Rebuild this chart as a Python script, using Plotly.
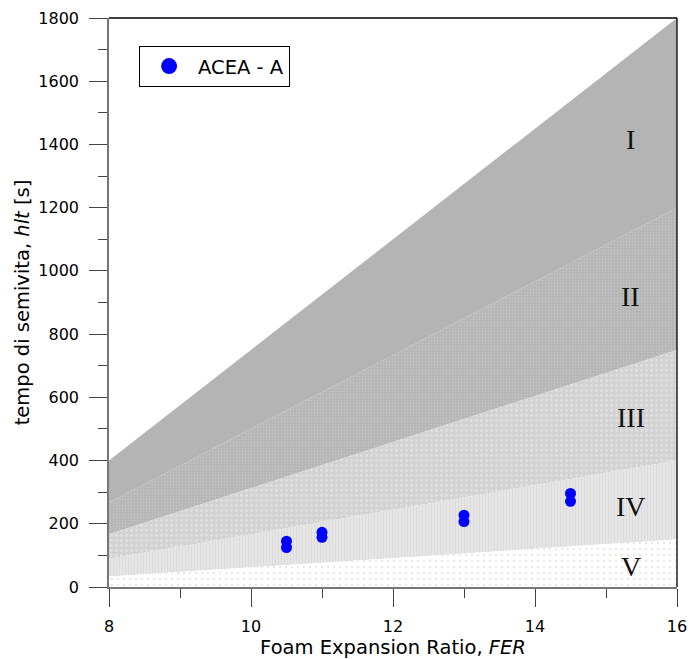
import plotly.graph_objects as go

# ---- data ----
fer_ends = [8, 16]
# upper boundary of each class at FER=8 and FER=16
class_names = ["I", "II", "III", "IV", "V"]
upper_at_8 = [400, 267, 167, 89, 33]
upper_at_16 = [1800, 1200, 750, 400, 150]
label_x = [15.35, 15.35, 15.35, 15.35, 15.35]
label_y = [1415, 918, 535, 254, 66]

fer_points = [10.5, 10.5, 11, 11, 13, 13, 14.5, 14.5]
hlt_points = [145, 125, 173, 157, 227, 207, 296, 271]

# ---- styling ----
fills = [
    dict(color="#b4b4b4", pattern=None),
    dict(color="#bdbdbd", pattern=dict(shape=".", bgcolor="#b4b4b4", fgcolor="#d2d2d2", size=3, solidity=0.35)),
    dict(color="#d6d6d6", pattern=dict(shape=".", bgcolor="#d2d2d2", fgcolor="#f0f0f0", size=5, solidity=0.25)),
    dict(color="#e2e2e2", pattern=dict(shape="|", bgcolor="#e6e6e6", fgcolor="#d0d0d0", size=3, solidity=0.35)),
    dict(color="#f6f6f6", pattern=dict(shape=".", bgcolor="#ffffff", fgcolor="#cfcfcf", size=6, solidity=0.12)),
]
sans = "DejaVu Sans, Arial, sans-serif"

fig = go.Figure()

lower_at_8 = upper_at_8[1:] + [0]
lower_at_16 = upper_at_16[1:] + [0]
for i in range(len(class_names)):
    xs = [fer_ends[0], fer_ends[1], fer_ends[1], fer_ends[0], fer_ends[0]]
    ys = [upper_at_8[i], upper_at_16[i], lower_at_16[i], lower_at_8[i], upper_at_8[i]]
    kw = dict(
        x=xs, y=ys, mode="lines", fill="toself",
        line=dict(width=0, color="rgba(0,0,0,0)"),
        fillcolor=fills[i]["color"], showlegend=False, hoverinfo="skip",
    )
    if fills[i]["pattern"] is not None:
        kw["fillpattern"] = fills[i]["pattern"]
    fig.add_trace(go.Scatter(**kw))

fig.add_trace(go.Scatter(
    x=fer_points, y=hlt_points, mode="markers",
    marker=dict(color="#0000ff", size=11, line=dict(width=0)),
    showlegend=False,
))
# legend entry
fig.add_trace(go.Scatter(
    x=[None], y=[None], mode="markers", name="ACEA - A",
    marker=dict(color="#0000ff", size=17, line=dict(width=0)),
    showlegend=True,
))

for name, lx, ly in zip(class_names, label_x, label_y):
    fig.add_annotation(
        x=lx, y=ly, text=name, showarrow=False,
        font=dict(family="Liberation Serif, Times New Roman, serif", size=28, color="#111111"),
        xanchor="center", yanchor="middle",
    )

# top and right frame lines
fig.add_shape(type="line", xref="paper", yref="paper", x0=0, x1=1, y0=1, y1=1,
              line=dict(color="#000000", width=1.3))
fig.add_shape(type="line", xref="paper", yref="paper", x0=1, x1=1, y0=0, y1=1,
              line=dict(color="#000000", width=1.3))

axis_font = dict(family=sans, size=16, color="#000000")
fig.update_layout(
    width=696, height=659,
    margin=dict(l=109, r=19, t=18, b=72),
    paper_bgcolor="#ffffff", plot_bgcolor="#ffffff",
    font=dict(family=sans, color="#000000"),
    showlegend=True,
    legend=dict(
        x=0.053, y=0.951, xanchor="left", yanchor="top",
        bgcolor="#ffffff", bordercolor="#000000", borderwidth=1,
        font=dict(size=19.5, family=sans),
        itemwidth=48,
    ),
    xaxis=dict(
        range=[8, 16], dtick=2, showgrid=False, zeroline=False, automargin=False,
        showline=True, linecolor="#777777", linewidth=1.5,
        ticks="outside", ticklen=18, tickwidth=1.3, tickcolor="#444444",
        minor=dict(ticks="outside", ticklen=9, dtick=1, tickwidth=1.3, tickcolor="#444444", showgrid=False),
        tickfont=axis_font, ticklabelstandoff=6,
        title=dict(text="Foam Expansion Ratio, <i>FER</i>", font=dict(size=19.5, family=sans), standoff=8),
    ),
    yaxis=dict(
        range=[0, 1800], dtick=200, showgrid=False, zeroline=False, automargin=False,
        showline=True, linecolor="#777777", linewidth=1.5,
        ticks="outside", ticklen=18, tickwidth=1.3, tickcolor="#444444",
        minor=dict(ticks="outside", ticklen=9, dtick=100, tickwidth=1.3, tickcolor="#444444", showgrid=False),
        tickfont=axis_font, ticklabelstandoff=7,
        title=dict(text="tempo di semivita, <i>hlt</i> [s]", font=dict(size=19.5, family=sans), standoff=4),
    ),
)

fig.write_html("out.html")
